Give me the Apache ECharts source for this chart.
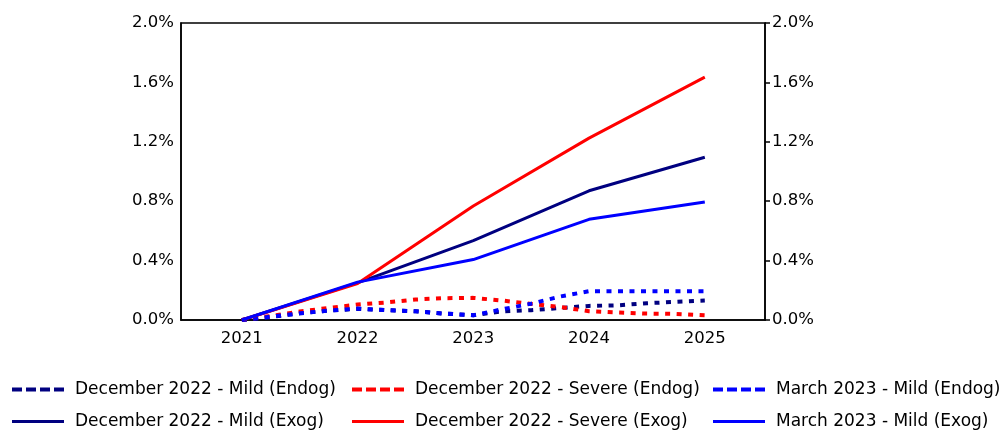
<!DOCTYPE html>
<html>
<head>
<meta charset="utf-8">
<script src="https://cdn.jsdelivr.net/npm/echarts@6/dist/echarts.min.js"></script>
<style>
  html, body { margin: 0; padding: 0; background: #fff; }
  #chart { width: 1005px; height: 430px; }
</style>
</head>
<body>
<div id="chart"></div>
<script>
// ---- data ----
const years = [2021, 2022, 2023, 2024, 2025];
const xTickLabels = ['2021', '2022', '2023', '2024', '2025'];
const quarters = [2021, 2021.25, 2021.5, 2021.75, 2022, 2022.25, 2022.5, 2022.75, 2023,
                  2023.25, 2023.5, 2023.75, 2024, 2024.25, 2024.5, 2024.75, 2025];

// Endogenous (quarterly, %)
const dec22MildEndog   = [0, 0.020, 0.045, 0.063, 0.075, 0.066, 0.059, 0.043, 0.032,
                          0.058, 0.066, 0.081, 0.095, 0.099, 0.113, 0.122, 0.131];
const dec22SevereEndog = [0, 0.027, 0.057, 0.081, 0.104, 0.118, 0.138, 0.147, 0.149,
                          0.131, 0.108, 0.088, 0.059, 0.050, 0.043, 0.041, 0.032];
const mar23MildEndog   = [0, 0.022, 0.045, 0.063, 0.077, 0.066, 0.059, 0.043, 0.032,
                          0.072, 0.110, 0.158, 0.194, 0.194, 0.194, 0.194, 0.194];
// Exogenous (annual, %)
const dec22MildExog   = [0, 0.250, 0.535, 0.870, 1.096];
const dec22SevereExog = [0, 0.245, 0.768, 1.225, 1.636];
const mar23MildExog   = [0, 0.255, 0.407, 0.678, 0.795];

const seriesNames = [
  'December 2022 - Mild (Endog)', 'December 2022 - Severe (Endog)', 'March 2023 - Mild (Endog)',
  'December 2022 - Mild (Exog)', 'December 2022 - Severe (Exog)', 'March 2023 - Mild (Exog)'
];
const colors = ['#000080', '#FF0000', '#0000FF'];

// ---- build ----
const zip = (xs, ys) => xs.map((x, i) => [x, ys[i]]);
const FONT = 'DejaVu Sans';
const dotted = [5, 6.5];

function endog(name, color, vals) {
  return {
    name, type: 'line', data: zip(quarters, vals), showSymbol: false, symbol: 'none',
    lineStyle: { color, width: 4, type: dotted, cap: 'butt' }, itemStyle: { color },
    emphasis: { disabled: true }, animation: false, z: 2
  };
}
function exog(name, color, vals) {
  return {
    name, type: 'line', data: zip(years, vals), showSymbol: false, symbol: 'none',
    lineStyle: { color, width: 3, type: 'solid' }, itemStyle: { color },
    emphasis: { disabled: true }, animation: false, z: 3
  };
}

const dashIcon = 'path://M0,0h10v4h-10z M14,0h10v4h-10z M28,0h10v4h-10z M42,0h10v4h-10z';
const solidIcon = 'path://M0,0h52v3h-52z';
const colLeft = [7, 347, 708];
const rowTop = [376, 408];

const legends = seriesNames.map((name, i) => {
  const isEndog = i < 3;
  return {
    orient: 'horizontal', left: colLeft[i % 3], top: rowTop[isEndog ? 0 : 1],
    itemWidth: 52, itemHeight: isEndog ? 4 : 3,
    textStyle: { fontFamily: FONT, fontSize: 17, color: '#000', padding: [0, 0, 0, 6] },
    selectedMode: false,
    data: [{ name, icon: isEndog ? dashIcon : solidIcon }]
  };
});

const yAxisBase = {
  type: 'value', min: 0, max: 2.0, interval: 0.4,
  splitLine: { show: false },
  axisLine: { show: true, lineStyle: { color: '#000', width: 1.5 } },
  axisLabel: { fontFamily: FONT, fontSize: 16.5, color: '#000',
               formatter: v => v.toFixed(1) + '%' }
};

const option = {
  animation: false,
  backgroundColor: '#fff',
  grid: { left: 181, right: 240, top: 23, bottom: 110, show: true,
          borderColor: '#000', borderWidth: 1.5, containLabel: false },
  xAxis: {
    type: 'value', min: 2020.475, max: 2025.52,
    splitLine: { show: false },
    axisLine: { show: true, onZero: false, lineStyle: { color: '#000', width: 1.5 } },
    axisTick: { show: false },
    axisLabel: {
      fontFamily: FONT, fontSize: 16.5, color: '#000', margin: 10,
      customValues: years,
      formatter: v => xTickLabels[years.indexOf(Math.round(v))] || ''
    }
  },
  yAxis: [
    Object.assign({}, yAxisBase, { position: 'left', axisTick: { show: false },
      axisLabel: Object.assign({}, yAxisBase.axisLabel, { margin: 7 }) }),
    Object.assign({}, yAxisBase, { position: 'right',
      axisTick: { show: true, inside: false, length: 5, lineStyle: { color: '#000', width: 1.5 } },
      axisLabel: Object.assign({}, yAxisBase.axisLabel, { margin: 7 }) })
  ],
  legend: legends,
  series: [
    endog(seriesNames[0], colors[0], dec22MildEndog),
    endog(seriesNames[1], colors[1], dec22SevereEndog),
    endog(seriesNames[2], colors[2], mar23MildEndog),
    exog(seriesNames[3], colors[0], dec22MildExog),
    exog(seriesNames[4], colors[1], dec22SevereExog),
    exog(seriesNames[5], colors[2], mar23MildExog)
  ]
};

const chart = echarts.init(document.getElementById('chart'), null, { renderer: 'canvas' });
chart.setOption(option);
</script>
</body>
</html>
